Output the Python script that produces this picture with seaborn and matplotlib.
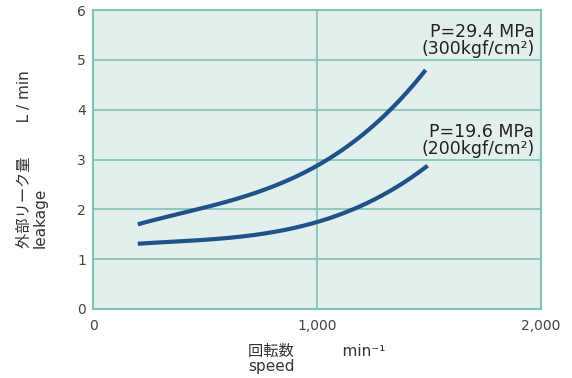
import numpy as np
import pandas as pd
import matplotlib
matplotlib.use("Agg")
import matplotlib.pyplot as plt
import seaborn as sns

# Data
speed_hi = [200, 286, 582, 805, 1000, 1118, 1284, 1374, 1485]
leak_hi = [1.71, 1.79, 2.13, 2.46, 2.90, 3.20, 3.80, 4.20, 4.81]
speed_lo = [200, 434, 734, 881, 1000, 1181, 1329, 1494]
leak_lo = [1.31, 1.37, 1.50, 1.60, 1.74, 2.06, 2.36, 2.88]
labels = ["P=29.4 MPa\n(300kgf/cm²)", "P=19.6 MPa\n(200kgf/cm²)"]
x_ticks = [0, 1000, 2000]
x_ticklabels = ["0", "1,000", "2,000"]
y_ticks = [0, 1, 2, 3, 4, 5, 6]

sns.set_theme(style="white")
plt.rcParams['font.family'] = ['DejaVu Sans', 'Noto Sans CJK JP']

df = pd.concat([
    pd.DataFrame({"speed": speed_hi, "leak": leak_hi, "p": labels[0]}),
    pd.DataFrame({"speed": speed_lo, "leak": leak_lo, "p": labels[1]}),
])

fig = plt.figure(figsize=(5.72, 3.78), dpi=100)
ax = fig.add_axes([93/572, 1 - 309/378, 448/572, 299/378])
grid_c = "#7cc4b6"
ax.set_facecolor("#e3efec")

for lab in labels:
    sub = df[df.p == lab]
    xs = np.array(sub.speed, dtype=float)
    ys = np.array(sub.leak, dtype=float)
    coef = np.polyfit(xs, ys, 3)
    xx = np.linspace(xs.min(), xs.max(), 200)
    sm = pd.DataFrame({"speed": xx, "leak": np.polyval(coef, xx)})
    sns.lineplot(data=sm, x="speed", y="leak", ax=ax, color="#1e5288",
                 linewidth=3.0, solid_capstyle="butt", zorder=3)

ax.set_xlim(0, 2000)
ax.set_ylim(0, 6)
ax.set_xticks(x_ticks)
ax.set_xticklabels(x_ticklabels)
ax.set_yticks(y_ticks)
ax.grid(True, color=grid_c, linewidth=1.2, zorder=1)
ax.set_axisbelow(True)
for s in ax.spines.values():
    s.set_color(grid_c)
    s.set_linewidth(1.5)
ax.tick_params(axis="both", length=0, labelsize=10, labelcolor="#444444", pad=5)
ax.tick_params(axis="x", pad=7)

ax.set_xlabel("回転数          min⁻¹\nspeed", fontsize=11, color="#333333",
              multialignment="left", labelpad=8, linespacing=1.05)
ax.set_ylabel("外部リーク量       L / min\nleakage", fontsize=11, color="#333333",
              multialignment="left", labelpad=21, linespacing=1.05)

ax.text(1970, 5.74, labels[0], fontsize=12.5, color="#222222", ha="right", va="top",
        linespacing=0.95)
ax.text(1970, 3.73, labels[1], fontsize=12.5, color="#222222", ha="right", va="top",
        linespacing=0.95)

fig.savefig("out.png", dpi=100)
